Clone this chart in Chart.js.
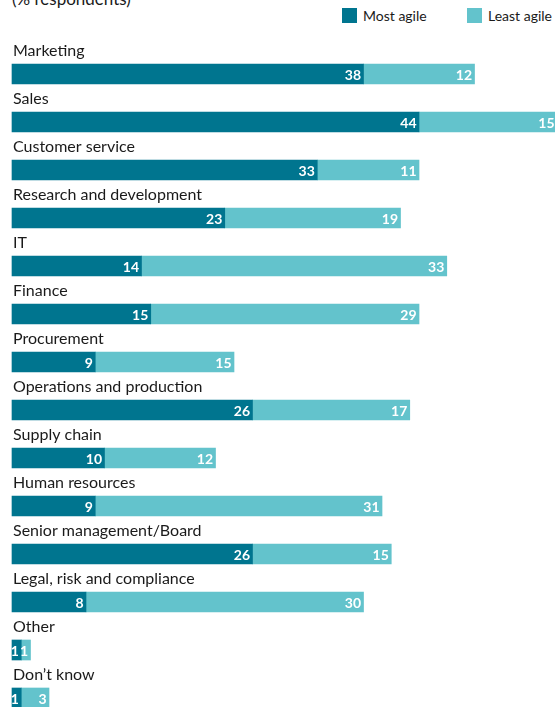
<!DOCTYPE html>
<html>
<head>
<meta charset="utf-8">
<script src="https://cdn.jsdelivr.net/npm/chart.js@4"></script>
<style>
  html, body { margin: 0; padding: 0; background: #fff; }
  #wrap { position: relative; width: 555px; height: 707px; overflow: hidden; font-family: Lato, "Noto Sans", sans-serif; }
  #title { position: absolute; left: 12px; top: -12px; font-size: 17px; color: #1a1a1a; }
  .leg { position: absolute; top: 7px; font-size: 14px; color: #1a1a1a; display: flex; align-items: center; }
  .leg span.sw { display: inline-block; width: 15px; height: 15px; margin-right: 6px; }
  canvas { position: absolute; left: 0; top: 0; }
</style>
</head>
<body>
<div id="wrap">
  <div id="title">(% respondents)</div>
  <div class="leg" style="left:342px"><span class="sw" style="background:#00758f"></span>Most agile</div>
  <div class="leg" style="left:467px"><span class="sw" style="background:#63c3cc"></span>Least agile</div>
  <canvas id="c" width="555" height="707"></canvas>
</div>
<script>
const categories = [
  "Marketing", "Sales", "Customer service", "Research and development", "IT",
  "Finance", "Procurement", "Operations and production", "Supply chain",
  "Human resources", "Senior management/Board", "Legal, risk and compliance",
  "Other", "Don\u2019t know"
];
const mostAgile  = [38, 44, 33, 23, 14, 15, 9, 26, 10, 9, 26, 8, 1, 1];
const leastAgile = [12, 15, 11, 19, 33, 29, 15, 17, 12, 31, 15, 30, 1, 3];
const seriesNames = ["Most agile", "Least agile"];

const DARK = "#00758f", LIGHT = "#63c3cc";

const labelPlugin = {
  id: "labels",
  afterDatasetsDraw(chart) {
    const ctx = chart.ctx;
    const yScale = chart.scales.y;
    const left = chart.chartArea.left;
    ctx.save();
    // category labels above bars
    ctx.font = "16px Lato, 'Noto Sans', sans-serif";
    ctx.fillStyle = "#1a1a1a";
    ctx.textAlign = "left";
    ctx.textBaseline = "alphabetic";
    categories.forEach((c, i) => {
      const y = yScale.getPixelForValue(i);
      ctx.fillText(c, left + 1, y - 18);
    });
    // value labels inside bars
    ctx.font = "bold 14px Lato, 'Noto Sans', sans-serif";
    ctx.fillStyle = "#ffffff";
    ctx.textAlign = "right";
    ctx.textBaseline = "middle";
    chart.data.datasets.forEach((ds, di) => {
      const meta = chart.getDatasetMeta(di);
      meta.data.forEach((bar, i) => {
        const v = ds.data[i];
        const x = Math.min(bar.x, chart.width + 2) - 2.5;
        ctx.fillText(String(v), x, bar.y + 1);
      });
    });
    ctx.restore();
  }
};

new Chart(document.getElementById("c"), {
  type: "bar",
  data: {
    labels: categories,
    datasets: [
      { label: seriesNames[0], data: mostAgile, backgroundColor: DARK, barThickness: 20, clip: false },
      { label: seriesNames[1], data: leastAgile, backgroundColor: LIGHT, barThickness: 20, clip: false }
    ]
  },
  options: {
    indexAxis: "y",
    responsive: false,
    devicePixelRatio: 1,
    animation: false,
    layout: { padding: { top: 74, bottom: 9, left: 12, right: 0 } },
    plugins: { legend: { display: false }, tooltip: { enabled: false } },
    scales: {
      x: { stacked: true, min: 0, max: 58.7, display: false },
      y: { stacked: true, display: false, offset: false }
    }
  },
  plugins: [labelPlugin]
});
</script>
</body>
</html>
